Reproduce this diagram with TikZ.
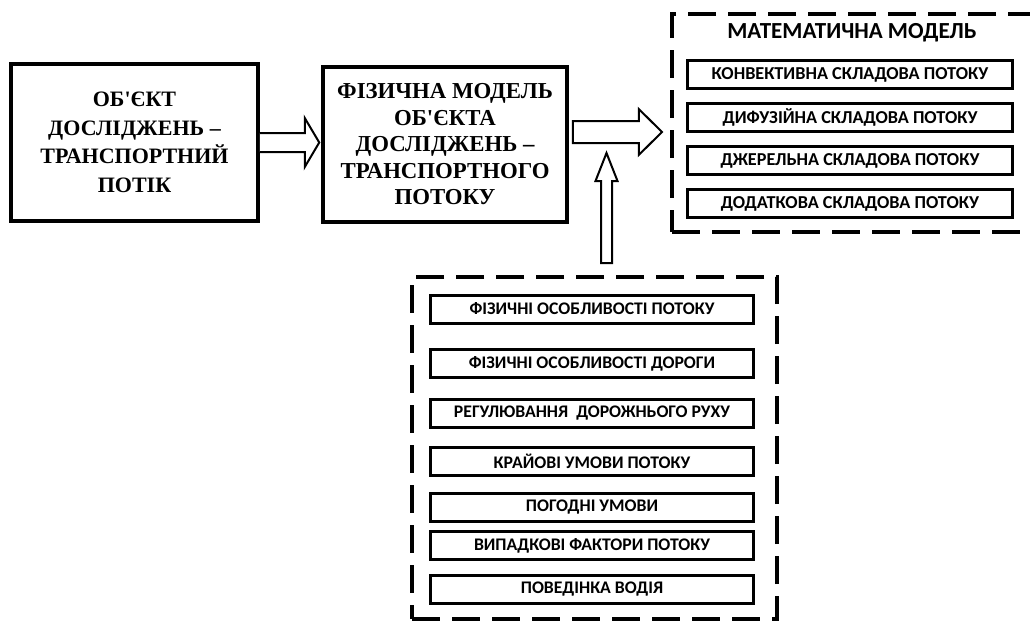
\documentclass[tikz,border=0pt]{standalone}
\usepackage{fontspec}
\setmainfont{Liberation Serif}
\newfontfamily\calibri{Carlito}
\usetikzlibrary{calc}

\tikzset{
  mainbox/.style={draw, line width=3.5pt, align=center, inner sep=0pt,
    font=\bfseries\fontsize{22}{28.5}\selectfont},
  frame/.style={draw, line width=4pt, dash pattern=on 28pt off 12pt},
  itembox/.style={draw, line width=3pt, minimum height=28pt, inner sep=0pt,
    font=\calibri\bfseries\fontsize{18.2}{20}\selectfont},
  hollow/.style={draw, line width=2pt, fill=white, line join=miter}
}

\begin{document}
\begin{tikzpicture}[x=1pt, y=-1pt]
  \useasboundingbox (0,0) rectangle (1030,621);
  \clip (0,0) rectangle (1030,621);

  % object and physical model
  \node[mainbox, minimum width=247pt, minimum height=157pt] (obj) at (134.5,142.5)
    {ОБ\textquotesingle ЄКТ\\ДОСЛІДЖЕНЬ –\\ТРАНСПОРТНИЙ\\ПОТІК};
  \node[mainbox, minimum width=244pt, minimum height=155pt,
    font=\bfseries\fontsize{22.8}{26.5}\selectfont] (phys) at (445,144.5)
    {ФІЗИЧНА МОДЕЛЬ\\ОБ\textquotesingle ЄКТА\\ДОСЛІДЖЕНЬ –\\ТРАНСПОРТНОГО\\ПОТОКУ};

  % mathematical model
  \node[frame, minimum width=373pt, minimum height=218pt] (math) at (858.5,123) {};
  \node[font=\calibri\bfseries\fontsize{23}{26}\selectfont] (mtitle) at (852,33)
    {МАТЕМАТИЧНА МОДЕЛЬ};
  \foreach \txt [count=\i] in {КОНВЕКТИВНА СКЛАДОВА ПОТОКУ, ДИФУЗІЙНА СКЛАДОВА ПОТОКУ,
      ДЖЕРЕЛЬНА СКЛАДОВА ПОТОКУ, ДОДАТКОВА СКЛАДОВА ПОТОКУ}
    \node[itembox, minimum width=325pt] (m\i) at (850,{74.5+43*(\i-1)}) {\txt};

  % factors
  \node[frame, minimum width=365pt, minimum height=342pt] (fac) at (594.5,448) {};
  \foreach \yy/\txt [count=\i] in {309/ФІЗИЧНІ ОСОБЛИВОСТІ ПОТОКУ,
      363.5/ФІЗИЧНІ ОСОБЛИВОСТІ ДОРОГИ, 413/РЕГУЛЮВАННЯ~ ДОРОЖНЬОГО РУХУ,
      461/КРАЙОВІ УМОВИ ПОТОКУ, 507/ПОГОДНІ УМОВИ,
      545.5/ВИПАДКОВІ ФАКТОРИ ПОТОКУ, 589.5/ПОВЕДІНКА ВОДІЯ}
    \node[itembox, minimum width=323pt,
      font=\calibri\bfseries\fontsize{17.7}{20}\selectfont] (f\i) at (592,\yy) {\txt};

  % block arrows
  \draw[hollow] ($(obj.east)+(0,-9.5)$) -- ++(45,0) -- ++(0,-15)
    -- ($(phys.west |- obj.east)+(-2,0)$) -- ($(obj.east)+(45,24.5)$)
    -- ++(0,-15) -- ($(obj.east)+(0,9.5)$);
  \coordinate (a2) at ($(phys.east)+(4,-12.5)$);
  \draw[hollow] ($(a2)+(0,-11)$) -- ++(66,0) -- ++(0,-12)
    -- ($(math.west |- a2)+(-8,0)$) -- ($(a2)+(66,23)$) -- ++(0,-12)
    -- ($(a2)+(0,11)$) -- cycle;
  \coordinate (up0) at ($(fac.north)+(12,-12)$);
  \draw[hollow] ($(up0)+(-5.5,0)$) -- ++(0,-82) -- ++(-5.5,0)
    -- ($(up0)+(0,-110)$) -- ($(up0)+(11,-82)$) -- ++(-5.5,0)
    -- ($(up0)+(5.5,0)$) -- cycle;
\end{tikzpicture}
\end{document}
